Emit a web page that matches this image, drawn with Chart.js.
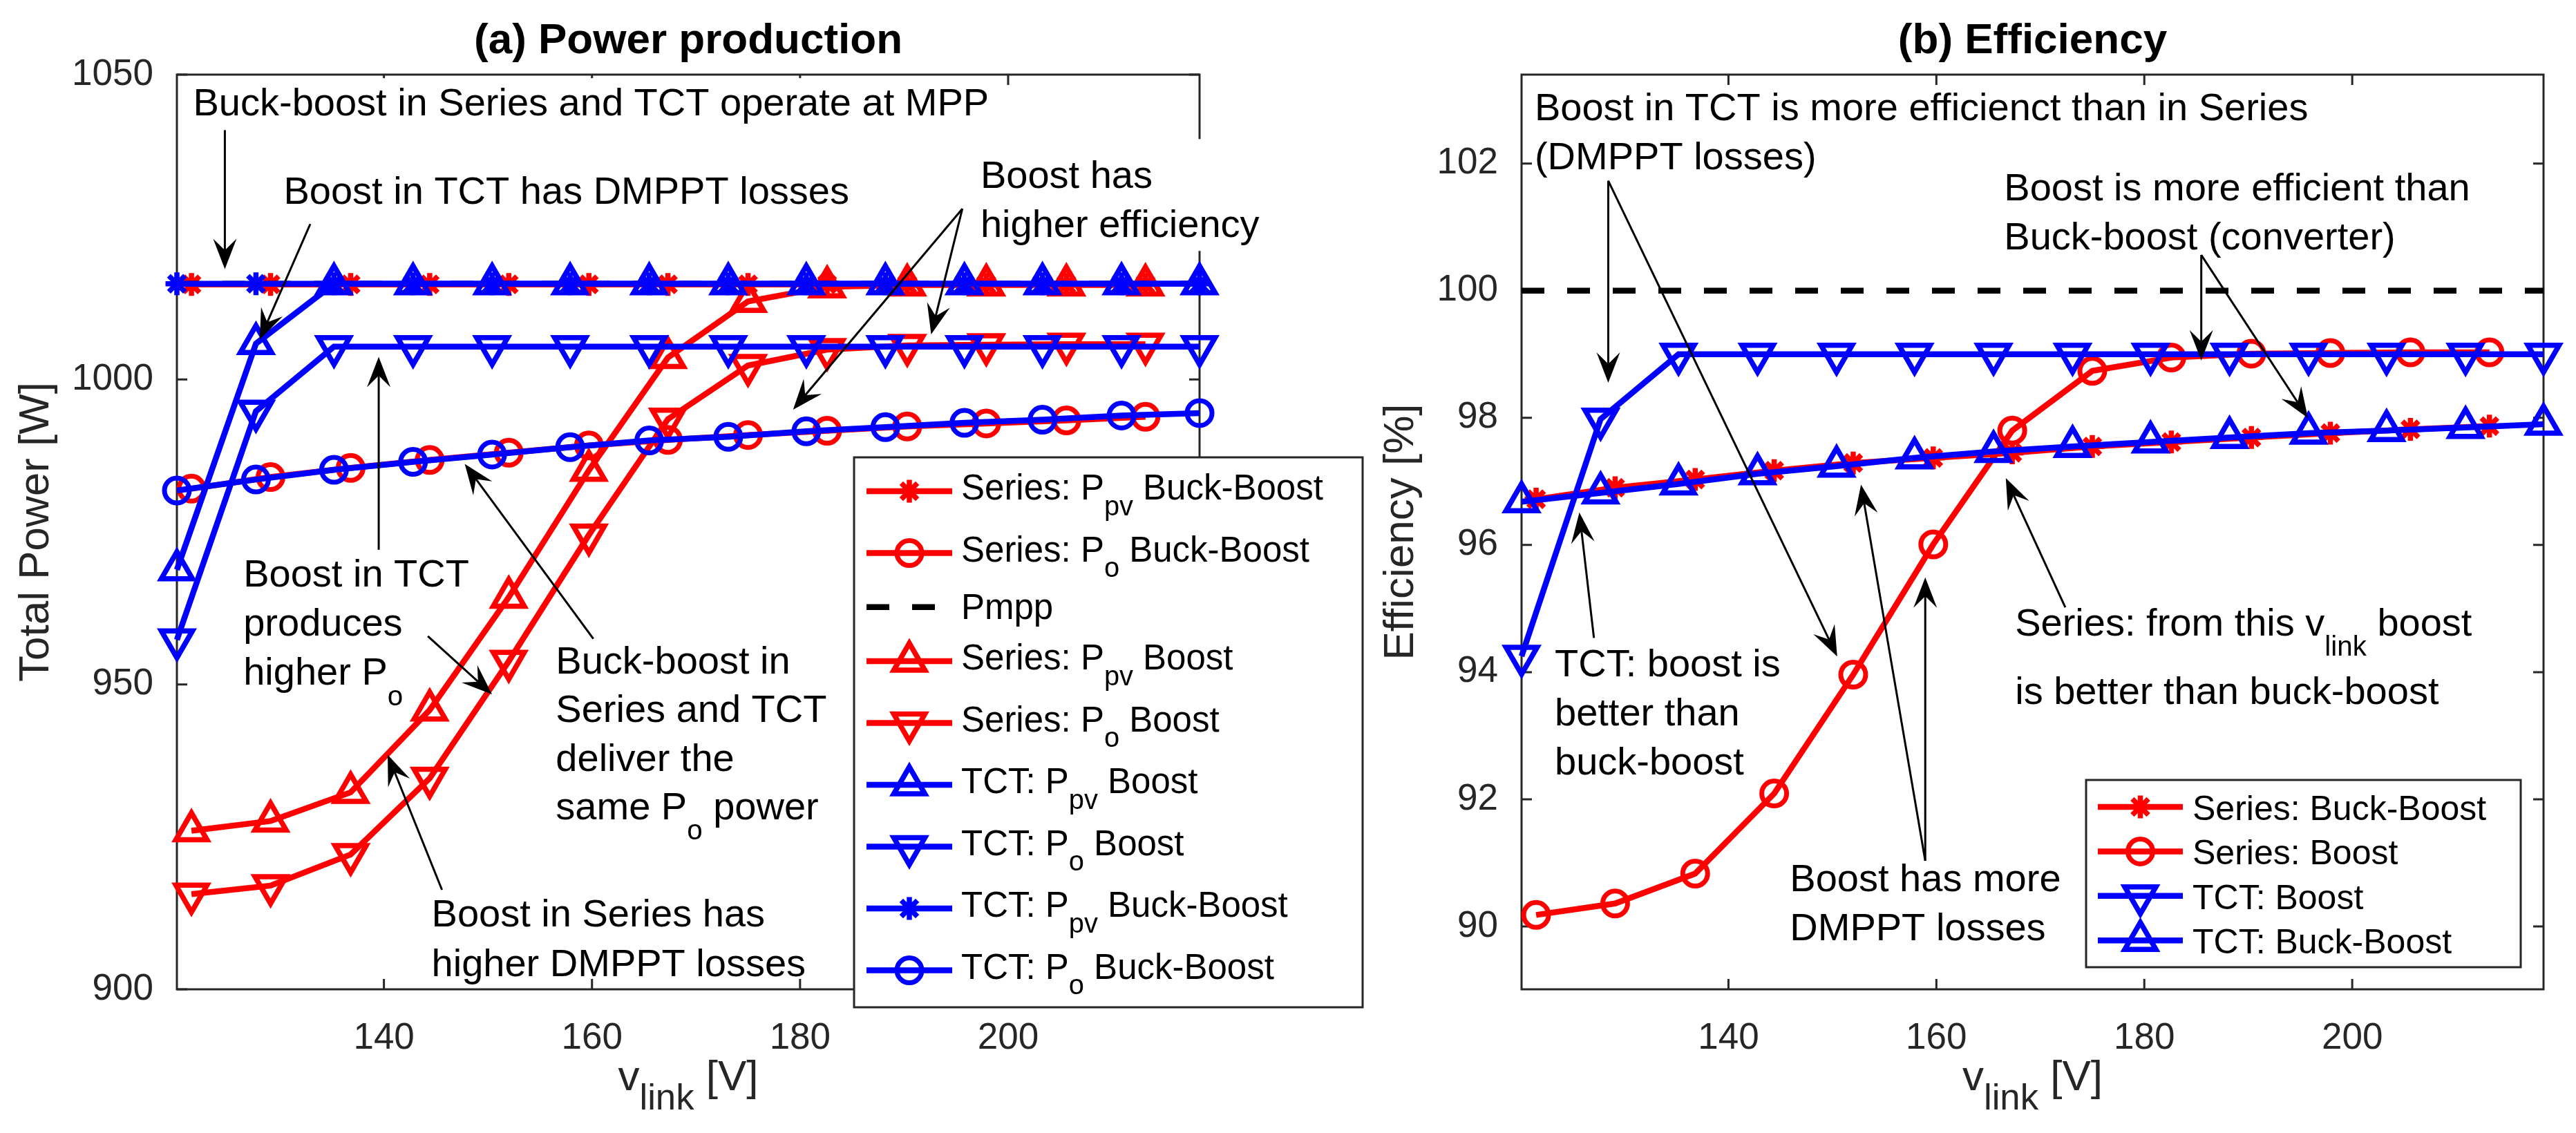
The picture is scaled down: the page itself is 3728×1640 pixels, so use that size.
<!DOCTYPE html>
<html>
<head>
<meta charset="utf-8">
<title>Power production and efficiency</title>
<script src="https://cdn.jsdelivr.net/npm/chart.js@4.4.0/dist/chart.umd.min.js"></script>
<style>
  html, body { margin: 0; padding: 0; background: #ffffff; }
  #wrap { position: relative; width: 3728px; height: 1640px; }
  #wrap canvas { position: absolute; left: 0; top: 0; }
</style>
</head>
<body>
<div id="wrap">
  <canvas id="powerChart" width="3728" height="1640"></canvas>
  <canvas id="effChart" width="3728" height="1640"></canvas>
</div>
<script>
// ---- data ----
const vlinkTCT = [120.1, 127.7, 135.2, 142.8, 150.4, 157.9, 165.5, 173.1, 180.6, 188.2, 195.8, 203.3, 210.9, 218.4];
const vlinkSeries = [121.5, 129.1, 136.8, 144.4, 152.0, 159.7, 167.3, 175.0, 182.6, 190.3, 197.9, 205.6, 213.2];
const vlinkSpan = [120.1, 218.4];

// (a) total power [W]
const seriesPpvBuckBoost = [1015.6, 1015.6, 1015.6, 1015.6, 1015.6, 1015.6, 1015.6, 1015.6, 1015.6, 1015.6, 1015.6, 1015.6, 1015.6];
const seriesPoBuckBoost = [982.1, 984.0, 985.5, 986.8, 988.0, 989.2, 990.1, 990.9, 991.6, 992.3, 992.8, 993.3, 993.9];
const pmppPower = [1015.7, 1015.7];
const seriesPpvBoost = [926.0, 927.6, 932.3, 945.8, 964.3, 985.1, 1003.6, 1012.8, 1015.2, 1015.5, 1015.5, 1015.5, 1015.5];
const seriesPoBoost = [915.6, 917.0, 922.1, 934.6, 953.8, 974.5, 993.5, 1002.3, 1004.9, 1005.6, 1005.7, 1005.8, 1005.8];
const tctPpvBoost = [968.8, 1005.9, 1015.7, 1015.7, 1015.7, 1015.7, 1015.7, 1015.7, 1015.7, 1015.7, 1015.7, 1015.7, 1015.7, 1015.7];
const tctPoBoost = [957.3, 994.8, 1005.4, 1005.4, 1005.4, 1005.4, 1005.4, 1005.4, 1005.4, 1005.4, 1005.4, 1005.4, 1005.4, 1005.4];
const tctPpvBuckBoost = [1015.7, 1015.7, 1015.7, 1015.7, 1015.7, 1015.7, 1015.7, 1015.7, 1015.7, 1015.7, 1015.7, 1015.7, 1015.7, 1015.7];
const tctPoBuckBoost = [981.8, 983.6, 985.2, 986.5, 987.7, 988.9, 990.0, 990.6, 991.5, 992.2, 992.9, 993.4, 994.1, 994.5];

// (b) efficiency [%]
const effSeriesBuckBoost = [96.72, 96.90, 97.03, 97.17, 97.29, 97.37, 97.45, 97.55, 97.62, 97.69, 97.76, 97.82, 97.87];
const effSeriesBoost = [90.18, 90.36, 90.83, 92.09, 93.96, 96.01, 97.80, 98.74, 98.95, 99.01, 99.02, 99.03, 99.03];
const effTctBoost = [94.25, 97.98, 99.0, 99.0, 99.0, 99.0, 99.0, 99.0, 99.0, 99.0, 99.0, 99.0, 99.0, 99.0];
const effTctBuckBoost = [96.68, 96.82, 96.96, 97.12, 97.24, 97.37, 97.47, 97.55, 97.62, 97.69, 97.76, 97.80, 97.85, 97.90];
const effMpp = [100, 100];

// tick labels
const vlinkTicks = [140, 160, 180, 200];
const powerTicks = [900, 950, 1000, 1050];
const effTicks = [90, 92, 94, 96, 98, 100, 102];

// ---- look ----
const FONT = '"Liberation Sans", Arial, Helvetica, sans-serif';
const AXIS_GRAY = '#262626';
const RED = '#ff0000';
const BLUE = '#0000ff';

const markers = {
  star: { pointStyle: 'star', rotation: 0, radius: 16.5, borderWidth: 7.5 },
  circle: { pointStyle: 'circle', rotation: 0, radius: 18, borderWidth: 7 },
  up: { pointStyle: 'triangle', rotation: 0, radius: 26, borderWidth: 7.5 },
  down: { pointStyle: 'triangle', rotation: 180, radius: 26, borderWidth: 7.5 },
  none: { pointStyle: 'circle', rotation: 0, radius: 0, borderWidth: 0 }
};

function series(label, xs, ys, color, mk, dash) {
  const m = markers[mk];
  return {
    label: label,
    data: xs.map((x, i) => ({ x: x, y: ys[i] })),
    borderColor: color,
    borderWidth: 8.5,
    borderDash: dash || [],
    pointStyle: m.pointStyle,
    pointRotation: m.rotation,
    pointRadius: m.radius,
    pointBorderWidth: m.borderWidth,
    pointBorderColor: color,
    pointBackgroundColor: 'rgba(0,0,0,0)',
    tension: 0,
    clip: false
  };
}

function setFont(ctx, size, bold) {
  ctx.font = (bold ? 'bold ' : '') + size + 'px ' + FONT;
}

// split "P_{pv} Boost" into plain / subscript pieces
function richParts(str) {
  const parts = [];
  const re = /_\{([^}]*)\}/g;
  let last = 0, m;
  while ((m = re.exec(str))) {
    if (m.index > last) parts.push({ t: str.slice(last, m.index), sub: false });
    parts.push({ t: m[1], sub: true });
    last = re.lastIndex;
  }
  if (last < str.length) parts.push({ t: str.slice(last), sub: false });
  return parts;
}

function richWidth(ctx, str, size, sub) {
  let w = 0;
  richParts(str).forEach(p => {
    setFont(ctx, p.sub ? size * sub.scale : size);
    w += ctx.measureText(p.t).width;
  });
  return w;
}

function drawRich(ctx, str, x, y, size, sub) {
  let cx = x;
  richParts(str).forEach(p => {
    setFont(ctx, p.sub ? size * sub.scale : size);
    ctx.fillText(p.t, cx, p.sub ? y + size * sub.drop : y);
    cx += ctx.measureText(p.t).width;
  });
}

function drawArrow(ctx, x1, y1, x2, y2) {
  const ang = Math.atan2(y2 - y1, x2 - x1);
  const len = 44, half = 17, notch = 0.62;
  ctx.save();
  ctx.strokeStyle = '#000';
  ctx.fillStyle = '#000';
  ctx.lineWidth = 3;
  ctx.beginPath();
  ctx.moveTo(x1, y1);
  ctx.lineTo(x2 - Math.cos(ang) * len * notch, y2 - Math.sin(ang) * len * notch);
  ctx.stroke();
  ctx.translate(x2, y2);
  ctx.rotate(ang);
  ctx.beginPath();
  ctx.moveTo(0, 0);
  ctx.lineTo(-len, -half);
  ctx.lineTo(-len * notch, 0);
  ctx.lineTo(-len, half);
  ctx.closePath();
  ctx.fill();
  ctx.restore();
}

function drawMarker(ctx, ds, x, y) {
  if (!ds.pointRadius) return;
  ctx.save();
  ctx.setLineDash([]);
  ctx.strokeStyle = ds.pointBorderColor;
  ctx.fillStyle = 'rgba(0,0,0,0)';
  ctx.lineWidth = ds.pointBorderWidth;
  Chart.helpers.drawPoint(ctx, {
    pointStyle: ds.pointStyle,
    rotation: ds.pointRotation,
    radius: ds.pointRadius,
    borderWidth: ds.pointBorderWidth
  }, x, y);
  ctx.restore();
}

function drawLegend(chart, lg) {
  const ctx = chart.ctx;
  const items = chart.data.datasets.filter(d => !d.noLegend);
  ctx.save();
  ctx.fillStyle = '#fff';
  ctx.fillRect(lg.left, lg.top, lg.right - lg.left, lg.bottom - lg.top);
  ctx.strokeStyle = AXIS_GRAY;
  ctx.lineWidth = 3;
  ctx.strokeRect(lg.left, lg.top, lg.right - lg.left, lg.bottom - lg.top);
  let y = lg.firstRow;
  let prevH = null;
  items.forEach(ds => {
    const hasSub = ds.label.indexOf('_{') >= 0;
    const h = hasSub ? lg.rowSub : lg.row;
    if (prevH !== null) y += (prevH + h) / 2;
    prevH = h;
    ctx.strokeStyle = ds.borderColor;
    ctx.lineWidth = ds.borderWidth;
    ctx.setLineDash(ds.borderDash || []);
    ctx.beginPath();
    ctx.moveTo(lg.line0, y);
    ctx.lineTo(lg.line1, y);
    ctx.stroke();
    ctx.setLineDash([]);
    drawMarker(ctx, ds, (lg.line0 + lg.line1) / 2, y);
    ctx.fillStyle = '#000';
    ctx.textAlign = 'left';
    ctx.textBaseline = 'alphabetic';
    drawRich(ctx, ds.label, lg.text, y + (hasSub ? lg.baseSub : lg.base), lg.size, { scale: 0.78, drop: 0.45 });
  });
  ctx.restore();
}

const NOTE_SIZE = 56;
const NOTE_SUB = { scale: 0.72, drop: 0.52 };

function matlabLook(cfg) {
  return {
    id: 'matlabLook',
    beforeDatasetsDraw(chart) {
      const { ctx, chartArea: a, scales } = chart;
      ctx.save();
      ctx.strokeStyle = AXIS_GRAY;
      ctx.lineWidth = 3;
      ctx.strokeRect(a.left, a.top, a.right - a.left, a.bottom - a.top);
      const tl = 15;
      ctx.beginPath();
      scales.x.ticks.forEach(t => {
        const px = scales.x.getPixelForValue(t.value);
        ctx.moveTo(px, a.bottom); ctx.lineTo(px, a.bottom - tl);
        ctx.moveTo(px, a.top); ctx.lineTo(px, a.top + tl);
      });
      scales.y.ticks.forEach(t => {
        const py = scales.y.getPixelForValue(t.value);
        ctx.moveTo(a.left, py); ctx.lineTo(a.left + tl, py);
        ctx.moveTo(a.right, py); ctx.lineTo(a.right - tl, py);
      });
      ctx.stroke();
      ctx.restore();
    },
    afterDraw(chart) {
      const { ctx, chartArea: a, scales } = chart;
      const cx = (a.left + a.right) / 2;
      ctx.save();
      // title
      ctx.fillStyle = '#000';
      ctx.textAlign = 'center';
      ctx.textBaseline = 'alphabetic';
      setFont(ctx, 62, true);
      ctx.fillText(cfg.title, cx, 77);
      // x label with subscript
      ctx.fillStyle = AXIS_GRAY;
      ctx.textAlign = 'left';
      const xsub = { scale: 0.85, drop: 0.45 };
      const xw = richWidth(ctx, cfg.xLabel, 62, xsub);
      drawRich(ctx, cfg.xLabel, cx - xw / 2, 1578, 62, xsub);
      // y label
      ctx.save();
      ctx.translate(cfg.yLabelX, (a.top + a.bottom) / 2);
      ctx.rotate(-Math.PI / 2);
      ctx.textAlign = 'center';
      ctx.textBaseline = 'middle';
      setFont(ctx, 62);
      ctx.fillText(cfg.yLabel, 0, 0);
      ctx.restore();

      // note boxes with white background
      cfg.notes.forEach(n => {
        if (!n.bg) return;
        const x = scales.x.getPixelForValue(n.x);
        const y = scales.y.getPixelForValue(n.y);
        let w = 0;
        n.lines.forEach(l => { w = Math.max(w, richWidth(ctx, l, NOTE_SIZE, NOTE_SUB)); });
        ctx.fillStyle = '#fff';
        ctx.fillRect(x - 18, y - n.bg, w + 36, n.bg + (n.lines.length - 1) * n.gap + 20);
      });
      // arrows
      cfg.arrows.forEach(ar => {
        drawArrow(ctx,
          scales.x.getPixelForValue(ar[0]), scales.y.getPixelForValue(ar[1]),
          scales.x.getPixelForValue(ar[2]), scales.y.getPixelForValue(ar[3]));
      });
      // note text
      ctx.fillStyle = '#000';
      ctx.textAlign = 'left';
      ctx.textBaseline = 'alphabetic';
      cfg.notes.forEach(n => {
        const x = scales.x.getPixelForValue(n.x);
        const y = scales.y.getPixelForValue(n.y);
        n.lines.forEach((l, i) => drawRich(ctx, l, x, y + i * n.gap, NOTE_SIZE, NOTE_SUB));
      });
      ctx.restore();
      drawLegend(chart, cfg.legend);
    }
  };
}

function axes(xmin, xmax, ymin, ymax, xt, yt, yWidth) {
  const tickFont = { family: FONT, size: 53 };
  return {
    x: {
      type: 'linear', min: xmin, max: xmax,
      grid: { display: false }, border: { display: false },
      ticks: { font: tickFont, color: AXIS_GRAY, padding: 32, maxRotation: 0, includeBounds: false, callback: v => String(v) },
      afterBuildTicks: s => { s.ticks = xt.map(v => ({ value: v })); },
      afterFit: s => { s.height = 120; }
    },
    y: {
      type: 'linear', min: ymin, max: ymax,
      grid: { display: false }, border: { display: false },
      ticks: { font: tickFont, color: AXIS_GRAY, padding: 26, includeBounds: false, callback: v => String(v) },
      afterBuildTicks: s => { s.ticks = yt.map(v => ({ value: v })); },
      afterFit: s => { s.width = yWidth; }
    }
  };
}

function baseOptions(pad, scales) {
  return {
    responsive: false,
    maintainAspectRatio: false,
    devicePixelRatio: 1,
    animation: false,
    events: [],
    layout: { padding: pad },
    plugins: { legend: { display: false }, tooltip: { enabled: false } },
    scales: scales
  };
}

// ---- (a) Power production ----
const powerSets = [
  series('Series: P_{pv} Buck-Boost', vlinkSeries, seriesPpvBuckBoost, RED, 'star'),
  series('Series: P_{o} Buck-Boost', vlinkSeries, seriesPoBuckBoost, RED, 'circle'),
  series('Pmpp', vlinkSpan, pmppPower, '#000000', 'none', [33, 33]),
  series('Series: P_{pv} Boost', vlinkSeries, seriesPpvBoost, RED, 'up'),
  series('Series: P_{o} Boost', vlinkSeries, seriesPoBoost, RED, 'down'),
  series('TCT: P_{pv} Boost', vlinkTCT, tctPpvBoost, BLUE, 'up'),
  series('TCT: P_{o} Boost', vlinkTCT, tctPoBoost, BLUE, 'down'),
  series('TCT: P_{pv} Buck-Boost', vlinkTCT, tctPpvBuckBoost, BLUE, 'star'),
  series('TCT: P_{o} Buck-Boost', vlinkTCT, tctPoBuckBoost, BLUE, 'circle')
];
powerSets.forEach((d, i) => { d.order = -i; });   // later series on top

new Chart(document.getElementById('powerChart'), {
  type: 'line',
  data: { datasets: powerSets },
  options: baseOptions({ left: 0, right: 1992, top: 108, bottom: 88 },
    axes(120.1, 218.4, 900, 1050, vlinkTicks, powerTicks, 256)),
  plugins: [matlabLook({
    title: '(a) Power production',
    xLabel: 'v_{link} [V]',
    yLabel: 'Total Power [W]',
    yLabelX: 53,
    notes: [
      { x: 121.66, y: 1043.3, gap: 71, bg: 54, lines: ['Buck-boost in Series and TCT operate at MPP'] },
      { x: 130.36, y: 1028.8, gap: 71, lines: ['Boost in TCT has DMPPT losses'] },
      { x: 197.34, y: 1031.4, gap: 71, bg: 71, lines: ['Boost has', 'higher efficiency'] },
      { x: 126.49, y: 966.0, gap: 71, lines: ['Boost in TCT', 'produces', 'higher P_{o}'] },
      { x: 156.52, y: 951.8, gap: 70.5, lines: ['Buck-boost in', 'Series and TCT', 'deliver the', 'same P_{o} power'] },
      { x: 144.58, y: 910.3, gap: 72, lines: ['Boost in Series has', 'higher DMPPT losses'] }
    ],
    arrows: [
      [124.71, 1040.9, 124.71, 1018.1],
      [132.92, 1025.5, 128.06, 1006.55],
      [195.6, 1028.0, 192.6, 1007.4],
      [195.6, 1028.0, 179.33, 995.06],
      [139.5, 972.08, 139.5, 1003.73],
      [144.22, 957.9, 150.39, 948.38],
      [160.13, 957.49, 147.77, 986.17],
      [145.58, 916.32, 140.36, 938.47]
    ],
    legend: { left: 1236, right: 1972, top: 662, bottom: 1458, firstRow: 711, rowSub: 89.5, row: 67,
              line0: 1254, line1: 1378, text: 1391, size: 51, baseSub: 12, base: 17 }
  })]
});

// ---- (b) Efficiency ----
const effMppSet = series('Pmpp', vlinkSpan, effMpp, '#000000', 'none', [33, 33]);
effMppSet.noLegend = true;
const effSets = [
  series('Series: Buck-Boost', vlinkSeries, effSeriesBuckBoost, RED, 'star'),
  series('Series: Boost', vlinkSeries, effSeriesBoost, RED, 'circle'),
  series('TCT: Boost', vlinkTCT, effTctBoost, BLUE, 'down'),
  series('TCT: Buck-Boost', vlinkTCT, effTctBuckBoost, BLUE, 'up'),
  effMppSet
];
effSets.forEach((d, i) => { d.order = -i; });

new Chart(document.getElementById('effChart'), {
  type: 'line',
  data: { datasets: effSets },
  options: baseOptions({ left: 2002, right: 47, top: 108, bottom: 88 },
    axes(120.1, 218.4, 89.01, 103.4, vlinkTicks, effTicks, 200)),
  plugins: [matlabLook({
    title: '(b) Efficiency',
    xLabel: 'v_{link} [V]',
    yLabel: 'Efficiency [%]',
    yLabelX: 2028,
    notes: [
      { x: 121.36, y: 102.687, gap: 71.6, lines: ['Boost in TCT is more efficienct than in Series', '(DMPPT losses)'] },
      { x: 166.51, y: 101.42, gap: 71, lines: ['Boost is more efficient than', 'Buck-boost (converter)'] },
      { x: 123.29, y: 93.93, gap: 70.7, lines: ['TCT: boost is', 'better than', 'buck-boost'] },
      { x: 145.91, y: 90.554, gap: 71, lines: ['Boost has more', 'DMPPT losses'] },
      { x: 167.57, y: 94.58, gap: 99, lines: ['Series: from this v_{link} boost', 'is better than buck-boost'] }
    ],
    arrows: [
      [128.44, 101.73, 128.44, 98.552],
      [128.44, 101.73, 150.46, 94.246],
      [185.48, 100.562, 185.48, 98.904],
      [185.48, 100.562, 195.74, 97.997],
      [127.06, 94.538, 125.66, 96.512],
      [158.93, 91.031, 158.93, 95.491],
      [158.93, 91.031, 152.75, 96.949],
      [172.40, 95.020, 166.68, 97.052]
    ],
    legend: { left: 3019, right: 3648, top: 1129, bottom: 1400, firstRow: 1168, rowSub: 64.4, row: 64.4,
              line0: 3036, line1: 3159, text: 3173, size: 50, baseSub: 19, base: 19 }
  })]
});
</script>
</body>
</html>
